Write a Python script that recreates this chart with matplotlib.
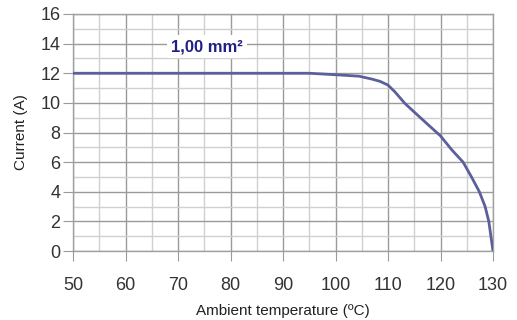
import numpy as np
from matplotlib import pyplot as plt
from matplotlib.ticker import MultipleLocator

# derating curve
temp = [50, 60, 70, 80, 90, 95, 100, 104.5, 107, 108.5, 110, 111.3, 113.2, 115, 117.5,
        120, 122.1, 124.3, 125.9, 127.4, 128.5, 129.2, 129.6, 130]
current = [12, 12, 12, 12, 12, 12, 11.9, 11.8, 11.6, 11.45, 11.2, 10.75, 9.97, 9.38, 8.57,
           7.77, 6.85, 6.0, 5.0, 4.0, 3.0, 2.0, 1.0, 0]
label = "1,00 mm²"

plt.rcParams["font.family"] = ["Liberation Sans", "DejaVu Sans"]

fig = plt.figure(figsize=(5.17, 3.2), dpi=100)
ax = fig.add_axes([73 / 517, 1 - 251 / 320, 420 / 517, 237 / 320])

ax.plot(temp, current, color="#5b5f9b", lw=2, zorder=3)

ax.set_xlim(50, 130)
ax.set_ylim(0, 16)
ax.xaxis.set_major_locator(MultipleLocator(10))
ax.xaxis.set_minor_locator(MultipleLocator(5))
ax.yaxis.set_major_locator(MultipleLocator(2))
ax.yaxis.set_minor_locator(MultipleLocator(1))

ax.grid(which="major", color="#9a9a9a", lw=1)
ax.grid(which="minor", color="#d0d0d0", lw=1)
ax.set_axisbelow(True)
for s in ax.spines.values():
    s.set_color("#a0a0a0")
    s.set_linewidth(1)

ax.tick_params(which="major", length=7, color="#9a9a9a", labelsize=13,
               labelcolor="#333333", pad=2)
ax.tick_params(axis="x", which="major", pad=12)
ax.tick_params(which="minor", length=0)

ax.set_xlabel("Ambient temperature (ºC)", fontsize=11, color="#222222", labelpad=7)
ax.set_ylabel("Current (A)", fontsize=11, color="#222222", labelpad=9)

ax.text(75.5, 13.8, label, fontsize=12, fontweight="bold", color="#1f1f85",
        ha="center", va="center", zorder=4,
        bbox=dict(facecolor="white", edgecolor="none", pad=3))

plt.savefig("out.png", dpi=100)
